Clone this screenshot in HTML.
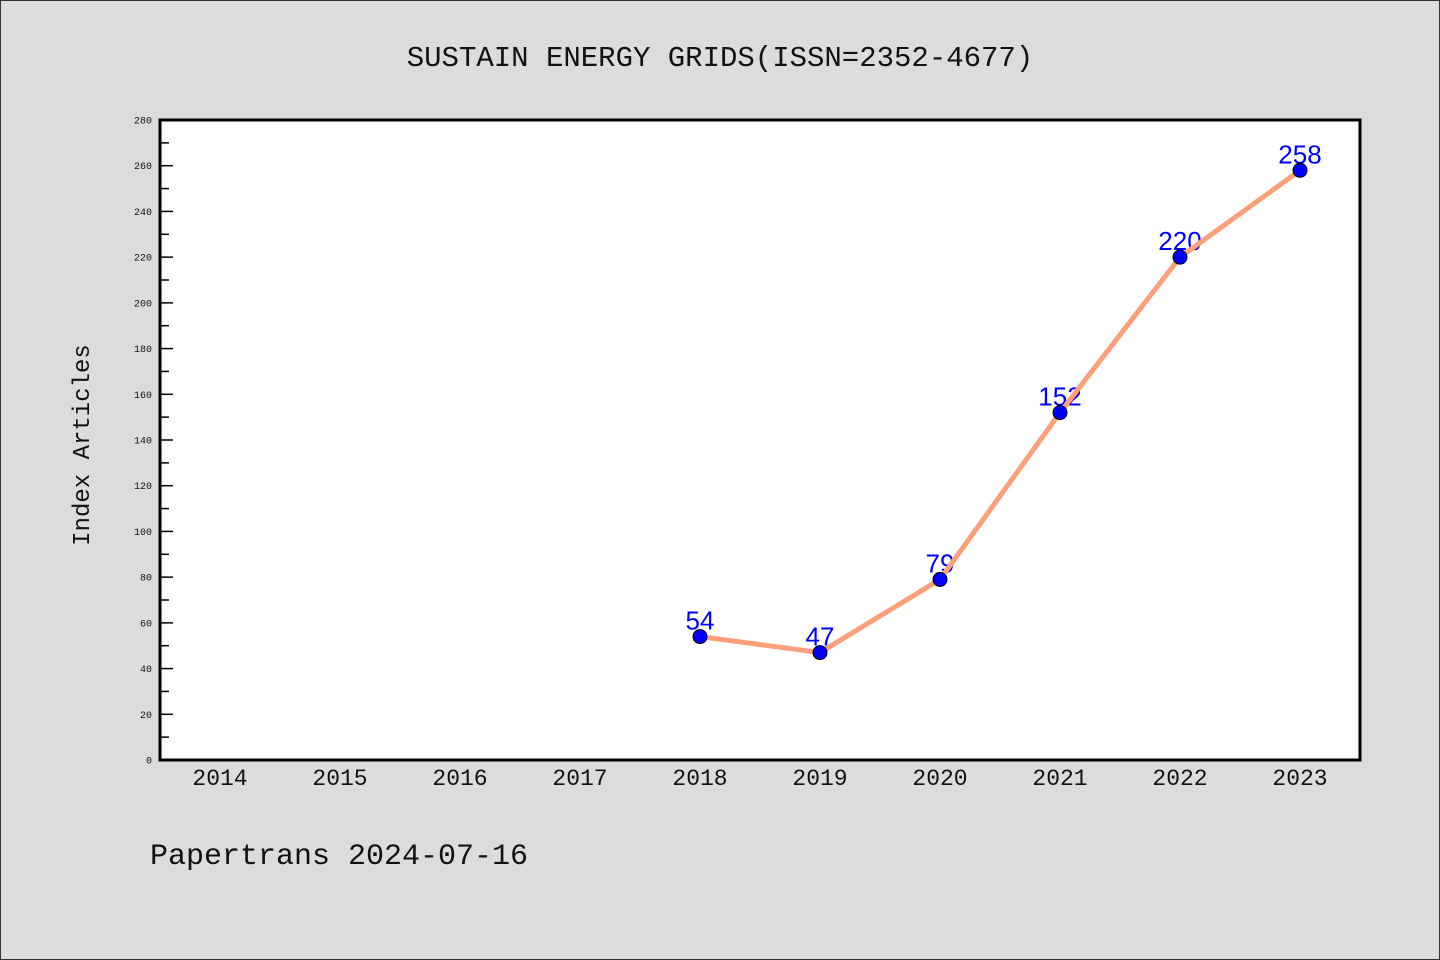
<!DOCTYPE html>
<html><head><meta charset="utf-8"><style>
body{margin:0;background:#dcdcdc}
svg{display:block}
text{font-family:"WenQuanYi Zen Hei","Liberation Mono",monospace}
</style></head><body>
<svg id="c" width="1440" height="960" xmlns="http://www.w3.org/2000/svg">
<rect x="0.5" y="0.5" width="1439" height="959" fill="#dcdcdc" stroke="#333"/>
<text x="720" y="66" text-anchor="middle" font-size="29" fill="#111">SUSTAIN ENERGY GRIDS(ISSN=2352-4677)</text>
<rect x="160" y="120" width="1200" height="640" fill="#fff"/>
<g id="yax"></g>
<g id="xax"></g>
<g id="marks"></g>
<rect x="160" y="120" width="1200" height="640" fill="none" stroke="#000" stroke-width="3"/>
<text transform="translate(89,445) rotate(-90)" text-anchor="middle" font-size="24" fill="#111">Index Articles</text>
<text x="150" y="864" font-size="30" fill="#111">Papertrans 2024-07-16</text>
</svg>
<script>
const years=[2014,2015,2016,2017,2018,2019,2020,2021,2022,2023];
const dataYears=[2018,2019,2020,2021,2022,2023];
const values=[54,47,79,152,220,258];
const yTicks=[0,20,40,60,80,100,120,140,160,180,200,220,240,260,280];
const NS="http://www.w3.org/2000/svg";
const xS=y=>220+(y-2014)*120;
const yS=v=>760-v*640/280;
function mk(t,a,p){const e=document.createElementNS(NS,t);for(const k in a)e.setAttribute(k,a[k]);p.appendChild(e);return e;}
const yax=document.getElementById('yax'),xax=document.getElementById('xax'),mg=document.getElementById('marks');
for(let v=0;v<=280;v+=10){
 const major=v%20===0;
 const l=mk('line',{x1:160,x2:major?173:169,y1:yS(v),y2:yS(v),stroke:'#000','stroke-width':1.5},yax);
 
 
}
yTicks.forEach(v=>{
 const t=mk('text',{x:152,y:yS(v)+3.5,'text-anchor':'end','font-size':10,fill:'#111'},yax);
 t.textContent=v;
 
 
});
years.forEach(y=>{
 const t=mk('text',{x:xS(y),y:785,'text-anchor':'middle','font-size':23,fill:'#111'},xax);
 t.textContent=y;
 
 
});
dataYears.forEach((y,i)=>{
 const t=mk('text',{x:xS(y),y:yS(values[i])-7,'text-anchor':'middle','font-size':26,fill:'#0000ff'},mg);
 t.setAttribute('style','font-family:"Liberation Sans",sans-serif');
 t.textContent=values[i];
 
 
});
const pl=mk('polyline',{points:dataYears.map((y,i)=>xS(y)+','+yS(values[i])).join(' '),fill:'none',stroke:'#ffa07a','stroke-width':5,'stroke-linejoin':'round'},mg);


dataYears.forEach((y,i)=>{
 const c=mk('circle',{cx:xS(y),cy:yS(values[i]),r:7,fill:'#0000ff',stroke:'#000','stroke-width':1},mg);
 
 
});
</script>
</body></html>
